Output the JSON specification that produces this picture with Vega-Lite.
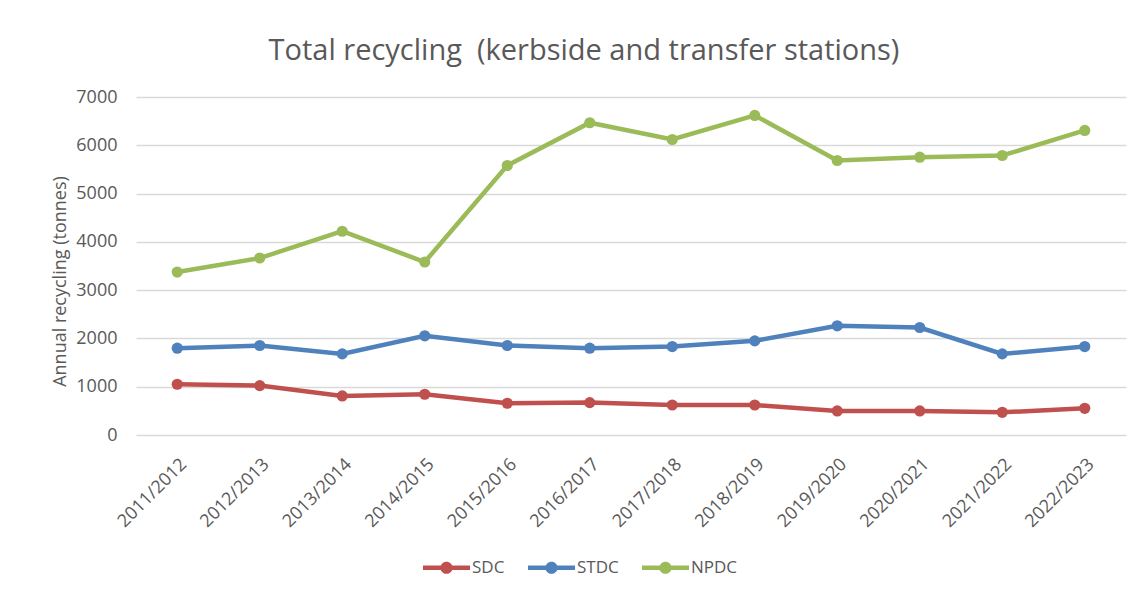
{
  "$schema": "https://vega.github.io/schema/vega-lite/v6.json",
  "autosize": "none",
  "width": 990,
  "height": 338,
  "padding": {"left": 136, "top": 97, "right": 19, "bottom": 163},
  "background": "white",
  "title": {
    "text": "Total recycling\u00a0 (kerbside and transfer stations)",
    "fontSize": 29,
    "font": "Open Sans",
    "fontWeight": "normal",
    "color": "#595959",
    "anchor": "middle",
    "dx": -47,
    "offset": 22
  },
  "data": {
    "values": [
      {"year": "2011/2012", "council": "SDC", "tonnes": 1051},
      {"year": "2012/2013", "council": "SDC", "tonnes": 1023},
      {"year": "2013/2014", "council": "SDC", "tonnes": 809},
      {"year": "2014/2015", "council": "SDC", "tonnes": 844},
      {"year": "2015/2016", "council": "SDC", "tonnes": 657},
      {"year": "2016/2017", "council": "SDC", "tonnes": 671},
      {"year": "2017/2018", "council": "SDC", "tonnes": 622},
      {"year": "2018/2019", "council": "SDC", "tonnes": 622},
      {"year": "2019/2020", "council": "SDC", "tonnes": 498},
      {"year": "2020/2021", "council": "SDC", "tonnes": 498},
      {"year": "2021/2022", "council": "SDC", "tonnes": 470},
      {"year": "2022/2023", "council": "SDC", "tonnes": 553},
      {"year": "2011/2012", "council": "STDC", "tonnes": 1798},
      {"year": "2012/2013", "council": "STDC", "tonnes": 1853},
      {"year": "2013/2014", "council": "STDC", "tonnes": 1680},
      {"year": "2014/2015", "council": "STDC", "tonnes": 2054},
      {"year": "2015/2016", "council": "STDC", "tonnes": 1853},
      {"year": "2016/2017", "council": "STDC", "tonnes": 1798},
      {"year": "2017/2018", "council": "STDC", "tonnes": 1832},
      {"year": "2018/2019", "council": "STDC", "tonnes": 1950},
      {"year": "2019/2020", "council": "STDC", "tonnes": 2261},
      {"year": "2020/2021", "council": "STDC", "tonnes": 2226},
      {"year": "2021/2022", "council": "STDC", "tonnes": 1680},
      {"year": "2022/2023", "council": "STDC", "tonnes": 1832},
      {"year": "2011/2012", "council": "NPDC", "tonnes": 3375},
      {"year": "2012/2013", "council": "NPDC", "tonnes": 3665},
      {"year": "2013/2014", "council": "NPDC", "tonnes": 4220},
      {"year": "2014/2015", "council": "NPDC", "tonnes": 3583},
      {"year": "2015/2016", "council": "NPDC", "tonnes": 5581},
      {"year": "2016/2017", "council": "NPDC", "tonnes": 6467},
      {"year": "2017/2018", "council": "NPDC", "tonnes": 6120},
      {"year": "2018/2019", "council": "NPDC", "tonnes": 6618},
      {"year": "2019/2020", "council": "NPDC", "tonnes": 5685},
      {"year": "2020/2021", "council": "NPDC", "tonnes": 5753},
      {"year": "2021/2022", "council": "NPDC", "tonnes": 5788},
      {"year": "2022/2023", "council": "NPDC", "tonnes": 6307}
    ]
  },
  "mark": {"type": "line", "strokeWidth": 4.5, "point": {"size": 125, "filled": true, "opacity": 1}},
  "encoding": {
    "x": {
      "field": "year",
      "type": "ordinal",
      "sort": null,
      "title": null,
      "scale": {"type": "point", "padding": 0.5},
      "axis": {
        "labelAngle": -45,
        "labelFontSize": 18,
        "labelFont": "Open Sans",
        "labelColor": "#595959",
        "domain": false,
        "ticks": false,
        "grid": false,
        "labelPadding": 20
      }
    },
    "y": {
      "field": "tonnes",
      "type": "quantitative",
      "title": "Annual recycling (tonnes)",
      "scale": {"domain": [0, 7000], "nice": false},
      "axis": {
        "values": [0, 1000, 2000, 3000, 4000, 5000, 6000, 7000],
        "format": "d",
        "labelFontSize": 18,
        "labelFont": "Open Sans",
        "labelColor": "#595959",
        "titleFontSize": 18,
        "titleFont": "Open Sans",
        "titleFontWeight": "normal",
        "titleColor": "#595959",
        "titleY": 184,
        "domain": false,
        "ticks": false,
        "labelPadding": 19,
        "titlePadding": 6,
        "gridColor": "#d9d9d9",
        "gridWidth": 1.3
      }
    },
    "color": {
      "field": "council",
      "type": "nominal",
      "sort": ["SDC", "STDC", "NPDC"],
      "scale": {"domain": ["SDC", "STDC", "NPDC"], "range": ["#C0504D", "#4F81BD", "#9BBB59"]},
      "legend": {
        "title": null,
        "orient": "none",
        "direction": "horizontal",
        "legendX": 287,
        "legendY": 447,
        "labelFontSize": 17,
        "labelFont": "Open Sans",
        "labelColor": "#595959",
        "symbolType": "M -1 -0.094 L 1 -0.094 L 1 0.094 L -1 0.094 Z M -0.26 0 A 0.26 0.26 0 1 1 0.26 0 A 0.26 0.26 0 1 1 -0.26 0 Z",
        "symbolSize": 2209,
        "symbolStrokeWidth": 0,
        "symbolOpacity": 1,
        "labelOffset": 2,
        "columnPadding": 23
      }
    }
  },
  "config": {"view": {"stroke": null}}
}
